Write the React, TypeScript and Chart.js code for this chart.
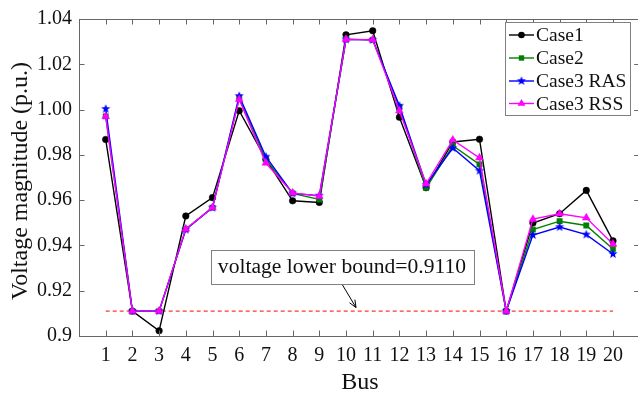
import React, { useEffect, useRef } from "react";
import { Chart, registerables } from "chart.js";

Chart.register(...registerables);

const buses = [1, 2, 3, 4, 5, 6, 7, 8, 9, 10, 11, 12, 13, 14, 15, 16, 17, 18, 19, 20];
const busLabels = ["1", "2", "3", "4", "5", "6", "7", "8", "9", "10", "11", "12", "13", "14", "15", "16", "17", "18", "19", "20"];

const case1 = [0.9868, 0.911, 0.9023, 0.953, 0.9611, 0.9995, 0.978, 0.9597, 0.959, 1.033, 1.0348, 0.9966, 0.9655, 0.9857, 0.9869, 0.911, 0.9499, 0.954, 0.9643, 0.942];
const case2 = [0.997, 0.911, 0.911, 0.9472, 0.9567, 1.005, 0.978, 0.963, 0.9603, 1.031, 1.0308, 1.001, 0.9654, 0.984, 0.9758, 0.911, 0.947, 0.9507, 0.9488, 0.9384];
const case3RAS = [1.0003, 0.911, 0.911, 0.947, 0.9567, 1.006, 0.9792, 0.963, 0.962, 1.031, 1.0308, 1.0017, 0.9668, 0.983, 0.973, 0.911, 0.9446, 0.9481, 0.9448, 0.9362];
const case3RSS = [0.997, 0.911, 0.911, 0.9473, 0.9567, 1.0045, 0.9764, 0.9632, 0.9617, 1.0311, 1.0308, 0.9995, 0.9672, 0.9866, 0.9787, 0.911, 0.9516, 0.954, 0.9522, 0.9406];

const lowerBound = 0.911;
const lowerBoundText = "voltage lower bound=0.9110";

const yTicks = [0.9, 0.92, 0.94, 0.96, 0.98, 1.0, 1.02, 1.04];
const yTickLabels = ["0.9", "0.92", "0.94", "0.96", "0.98", "1.00", "1.02", "1.04"];

const seriesNames = ["Case1", "Case2", "Case3 RAS", "Case3 RSS"];

const FONT = "'Liberation Serif', 'Times New Roman', serif";

function makeStar(color: string, r: number): HTMLCanvasElement {
  const c = document.createElement("canvas");
  const s = Math.ceil(r * 2 + 2);
  c.width = s;
  c.height = s;
  const ctx = c.getContext("2d")!;
  ctx.fillStyle = color;
  ctx.beginPath();
  for (let i = 0; i < 10; i++) {
    const a = -Math.PI / 2 + (i * Math.PI) / 5;
    const rr = i % 2 === 0 ? r : r * 0.42;
    ctx.lineTo(s / 2 + rr * Math.cos(a), s / 2 + rr * Math.sin(a));
  }
  ctx.closePath();
  ctx.fill();
  return c;
}

function drawMarker(ctx: CanvasRenderingContext2D, style: any, color: string, r: number, x: number, y: number) {
  ctx.save();
  ctx.fillStyle = color;
  ctx.strokeStyle = color;
  if (style === "circle") {
    ctx.beginPath();
    ctx.arc(x, y, r, 0, Math.PI * 2);
    ctx.fill();
  } else if (style === "rect") {
    const h = r * Math.SQRT1_2;
    ctx.fillRect(x - h, y - h, 2 * h, 2 * h);
  } else if (style === "triangle") {
    const h = r;
    ctx.beginPath();
    ctx.moveTo(x, y - h);
    ctx.lineTo(x + h * 0.866, y + h * 0.5);
    ctx.lineTo(x - h * 0.866, y + h * 0.5);
    ctx.closePath();
    ctx.fill();
  } else if (style instanceof HTMLCanvasElement) {
    ctx.drawImage(style, x - style.width / 2, y - style.height / 2);
  }
  ctx.restore();
}

export default function App() {
  const ref = useRef<HTMLCanvasElement>(null);

  useEffect(() => {
    const star = makeStar("#0000ff", 4.8);
    const toPts = (arr: number[]) => buses.map((b, i) => ({ x: b, y: arr[i] }));
    const styles: any[] = [
      { color: "#000000", point: "circle", r: 3.3 },
      { color: "#008000", point: "rect", r: 3.8 },
      { color: "#0000ff", point: star, r: 4.8 },
      { color: "#ff00ff", point: "triangle", r: 4.5 },
    ];
    const values = [case1, case2, case3RAS, case3RSS];

    const datasets: any[] = values.map((v, i) => ({
      label: seriesNames[i],
      data: toPts(v),
      borderColor: styles[i].color,
      backgroundColor: styles[i].color,
      pointBackgroundColor: styles[i].color,
      pointBorderColor: styles[i].color,
      pointStyle: styles[i].point,
      pointRadius: styles[i].r,
      pointBorderWidth: 0.5,
      borderWidth: 1.4,
      tension: 0,
      order: 4 - i,
    }));
    datasets.push({
      label: "lower bound",
      data: [
        { x: buses[0], y: lowerBound },
        { x: buses[buses.length - 1], y: lowerBound },
      ],
      borderColor: "#ff0000",
      borderWidth: 1,
      borderDash: [4, 3],
      pointRadius: 0,
      order: 10,
    });

    const decor = {
      id: "decor",
      afterDraw(chart: any) {
        const ctx: CanvasRenderingContext2D = chart.ctx;
        const ca = chart.chartArea;
        const xs = chart.scales.x;
        const ys = chart.scales.y;
        ctx.save();
        // box
        ctx.strokeStyle = "#666666";
        ctx.lineWidth = 1;
        ctx.strokeRect(Math.round(ca.left) + 0.5, Math.round(ca.top) + 0.5, Math.round(ca.right - ca.left), Math.round(ca.bottom - ca.top));
        // ticks inward
        const tl = 5.5;
        ctx.beginPath();
        buses.forEach((b) => {
          const px = Math.round(xs.getPixelForValue(b)) + 0.5;
          ctx.moveTo(px, ca.bottom);
          ctx.lineTo(px, ca.bottom - tl);
          ctx.moveTo(px, ca.top);
          ctx.lineTo(px, ca.top + tl);
        });
        yTicks.forEach((v) => {
          const py = Math.round(ys.getPixelForValue(v)) + 0.5;
          ctx.moveTo(ca.left, py);
          ctx.lineTo(ca.left + tl, py);
          ctx.moveTo(ca.right, py);
          ctx.lineTo(ca.right - tl, py);
        });
        ctx.stroke();

        // axis titles
        ctx.fillStyle = "#111111";
        ctx.font = `24px ${FONT}`;
        ctx.textAlign = "center";
        ctx.textBaseline = "middle";
        ctx.fillText("Bus", 360, 383);
        ctx.save();
        ctx.translate(21, 181);
        ctx.rotate(-Math.PI / 2);
        ctx.fillText("Voltage magnitude (p.u.)", 0, 0);
        ctx.restore();

        // annotation box
        const bx0 = 211.5, by0 = 250.5, bx1 = 474.5, by1 = 284.5;
        ctx.fillStyle = "#ffffff";
        ctx.fillRect(bx0, by0, bx1 - bx0, by1 - by0);
        ctx.strokeStyle = "#808080";
        ctx.strokeRect(bx0, by0, bx1 - bx0, by1 - by0);
        ctx.fillStyle = "#111111";
        ctx.font = `21.6px ${FONT}`;
        ctx.textAlign = "center";
        ctx.fillText(lowerBoundText, (bx0 + bx1) / 2 - 1, 267);
        // arrow
        const ax0 = 342.5, ay0 = 285, ax1 = 356, ay1 = 307.5;
        ctx.strokeStyle = "#000000";
        ctx.lineWidth = 1;
        ctx.beginPath();
        ctx.moveTo(ax0, ay0);
        ctx.lineTo(ax1, ay1);
        ctx.stroke();
        const ang = Math.atan2(ay1 - ay0, ax1 - ax0);
        const ah = 8;
        ctx.beginPath();
        ctx.moveTo(ax1, ay1);
        ctx.lineTo(ax1 - ah * Math.cos(ang - 0.4), ay1 - ah * Math.sin(ang - 0.4));
        ctx.moveTo(ax1, ay1);
        ctx.lineTo(ax1 - ah * Math.cos(ang + 0.4), ay1 - ah * Math.sin(ang + 0.4));
        ctx.stroke();

        // legend
        const lx0 = 505.5, ly0 = 22.5, lx1 = 630.5, ly1 = 115.5;
        ctx.fillStyle = "#ffffff";
        ctx.fillRect(lx0, ly0, lx1 - lx0, ly1 - ly0);
        ctx.strokeStyle = "#808080";
        ctx.strokeRect(lx0, ly0, lx1 - lx0, ly1 - ly0);
        const rows = [35, 58, 81, 103.5];
        ctx.font = `19.5px ${FONT}`;
        ctx.textAlign = "left";
        ctx.textBaseline = "middle";
        seriesNames.forEach((name, i) => {
          const y = rows[i];
          ctx.strokeStyle = styles[i].color;
          ctx.lineWidth = 1.4;
          ctx.beginPath();
          ctx.moveTo(509, y);
          ctx.lineTo(534, y);
          ctx.stroke();
          drawMarker(ctx, styles[i].point, styles[i].color, styles[i].r, 521.5, y);
          ctx.fillStyle = "#111111";
          ctx.fillText(name, 536, y + 1);
        });
        ctx.restore();
      },
    };

    const chart = new Chart(ref.current!, {
      type: "line",
      data: { datasets },
      options: {
        animation: false,
        responsive: false,
        devicePixelRatio: 1,
        layout: { padding: { top: 11, right: 3, left: 0, bottom: 0 } },
        plugins: {
          legend: { display: false },
          tooltip: { enabled: false },
          title: { display: false },
        },
        scales: {
          x: {
            type: "linear",
            min: 0,
            max: 21,
            grid: { display: false, drawTicks: false },
            border: { display: false },
            afterBuildTicks: (scale: any) => {
              scale.ticks = buses.map((b) => ({ value: b }));
            },
            afterFit: (scale: any) => {
              scale.height = 63;
            },
            ticks: {
              autoSkip: false,
              maxRotation: 0,
              padding: 8,
              color: "#111111",
              font: { family: FONT, size: 20 },
              callback: (v: any) => {
                const i = buses.indexOf(Number(v));
                return i >= 0 ? busLabels[i] : "";
              },
            },
          },
          y: {
            type: "linear",
            min: 0.9,
            max: 1.04,
            grid: { display: false, drawTicks: false },
            border: { display: false },
            afterBuildTicks: (scale: any) => {
              scale.ticks = yTicks.map((v) => ({ value: v }));
            },
            afterFit: (scale: any) => {
              scale.width = 79;
            },
            ticks: {
              padding: 7,
              color: "#111111",
              font: { family: FONT, size: 20 },
              callback: (v: any) => {
                const i = yTicks.findIndex((t) => Math.abs(t - Number(v)) < 1e-6);
                return i >= 0 ? yTickLabels[i] : "";
              },
            },
          },
        },
      },
      plugins: [decor],
    } as any);

    return () => chart.destroy();
  }, []);

  return (
    <div style={{ position: "absolute", left: 0, top: 0, width: 638, height: 399, overflow: "hidden", background: "#ffffff" }}>
      <canvas ref={ref} width={645} height={399} style={{ display: "block", width: 645, height: 399 }} />
    </div>
  );
}
